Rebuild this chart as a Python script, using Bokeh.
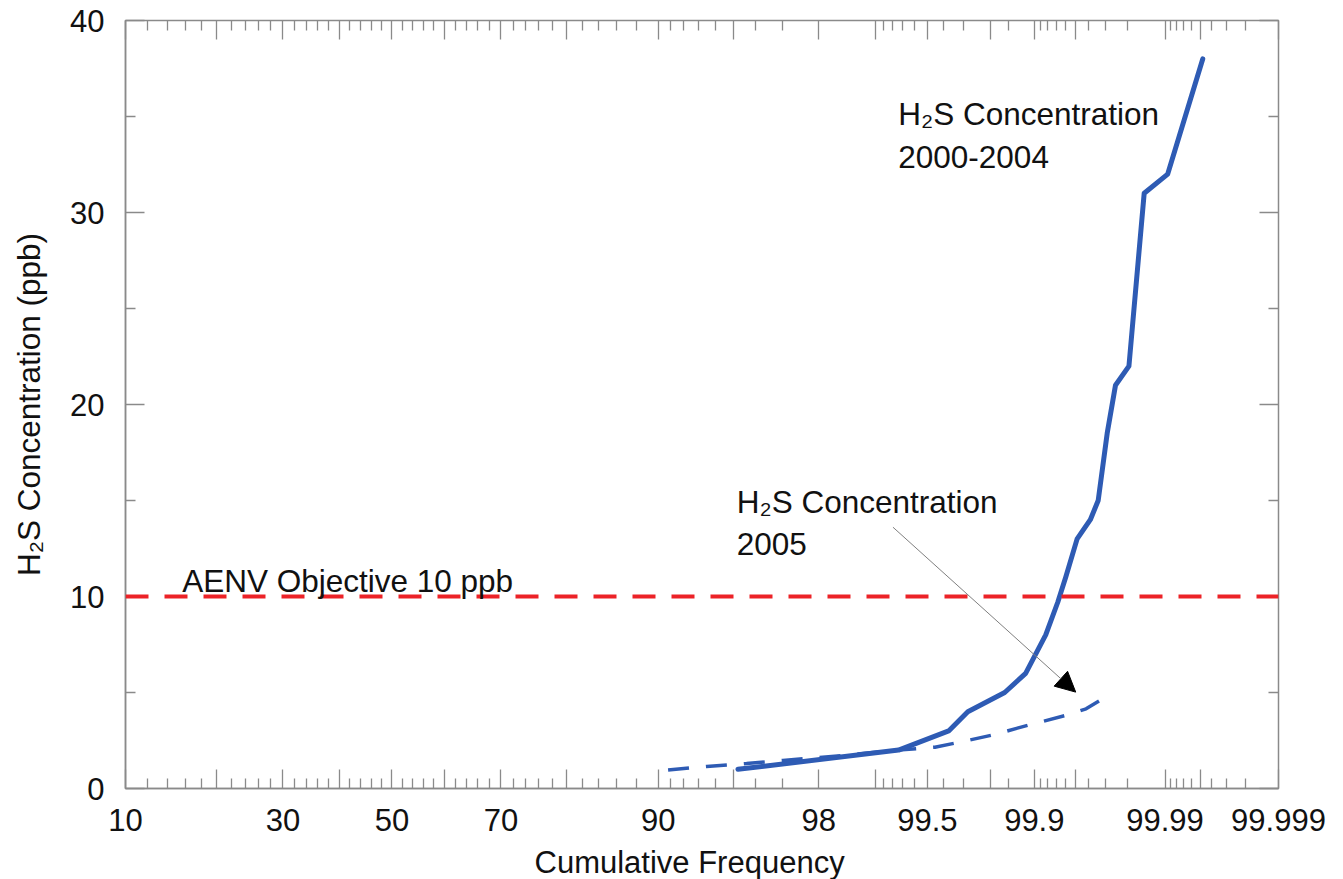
from statistics import NormalDist
from bokeh.plotting import figure
from bokeh.models import (Range1d, FixedTicker, CustomJSTickFormatter, LinearAxis,
                          Label, Arrow, NormalHead, Span, Title)
from bokeh.embed import file_html
from bokeh.resources import INLINE

# ---------------- data ----------------
# cumulative frequency (%) and H2S concentration (ppb)
freq_2000_2004 = [95.2, 99.26, 99.63, 99.72, 99.84, 99.885, 99.917, 99.932, 99.9405,
                  99.951, 99.961, 99.966, 99.971, 99.975, 99.9804, 99.9852, 99.9905, 99.9952]
conc_2000_2004 = [1.0, 2.0, 3.0, 4.0, 5.0, 6.0, 8.0, 9.7, 11.0,
                  13.0, 14.0, 15.0, 18.5, 21.0, 22.0, 31.0, 32.0, 38.0]

freq_2005 = [90.8, 93.5, 95.6, 97.0, 98.5, 99.26, 99.55, 99.7, 99.81, 99.89, 99.94, 99.958, 99.969]
conc_2005 = [0.96, 1.15, 1.3, 1.46, 1.72, 2.0, 2.15, 2.45, 2.8, 3.3, 3.8, 4.15, 4.7]

objective_ppb = 10

x_major = [10, 20, 30, 40, 50, 60, 70, 80, 90, 95, 98, 99, 99.5, 99.8, 99.9,
           99.95, 99.99, 99.995, 99.999]
x_labelled = [10, 30, 50, 70, 90, 98, 99.5, 99.9, 99.99, 99.999]
x_label_text = ["10", "30", "50", "70", "90", "98", "99.5", "99.9", "99.99", "99.999"]
x_minor = ([v for v in range(12, 90, 2) if v % 10 != 0] +
           [91, 92, 93, 94, 96, 97, 99.1, 99.2, 99.3, 99.4, 99.6, 99.7, 99.85,
            99.91, 99.92, 99.93, 99.94, 99.96, 99.97, 99.98,
            99.991, 99.992, 99.993, 99.994, 99.996, 99.997, 99.998])
y_major = [0, 10, 20, 30, 40]
y_minor = [5, 15, 25, 35]

# ---------------- probability (normal quantile) scale ----------------
nd = NormalDist()


def probit(p):
    return nd.inv_cdf(p / 100.0)


FONT = "Liberation Sans"
BLUE = "#2e5bb4"
RED = "#ec2227"
AXIS = "#8a8a8a"
TXT = "#111111"
ANN_SIZE = "31.5px"

p = figure(width=1343, height=879, output_backend="svg", toolbar_location=None,
           x_range=Range1d(probit(10), probit(99.999)), y_range=Range1d(0, 40),
           min_border_left=125, min_border_right=65, min_border_top=20, min_border_bottom=91,
           y_axis_label="H\u2082S Concentration (ppb)")
p.grid.visible = False
p.outline_line_color = AXIS
p.outline_line_width = 1.5
p.background_fill_color = "white"
p.border_fill_color = "white"

x_ticker = FixedTicker(ticks=[probit(v) for v in x_major], minor_ticks=[probit(v) for v in x_minor])
y_ticker = FixedTicker(ticks=y_major, minor_ticks=y_minor)

x_fmt = CustomJSTickFormatter(args=dict(pos=[probit(v) for v in x_labelled], txt=x_label_text), code="""
for (let i = 0; i < pos.length; i++) { if (Math.abs(tick - pos[i]) < 1e-6) return txt[i]; }
return "";
""")
blank_fmt = CustomJSTickFormatter(code="return '';")


def style_axis(ax, labelled):
    ax.axis_line_color = AXIS
    ax.axis_line_width = 1.5
    ax.major_tick_line_color = AXIS
    ax.minor_tick_line_color = AXIS
    ax.major_tick_line_width = 1.3
    ax.minor_tick_line_width = 1.3
    ax.major_tick_out = 0
    ax.minor_tick_out = 0
    ax.major_tick_in = 19
    ax.minor_tick_in = 10
    if labelled:
        ax.major_label_text_font = FONT
        ax.major_label_text_font_size = "31px"
        ax.major_label_text_color = TXT
        ax.axis_label_text_font = FONT
        ax.axis_label_text_font_size = ANN_SIZE
        ax.axis_label_text_font_style = "normal"
        ax.axis_label_text_color = TXT
    else:
        ax.major_label_text_font_size = "0px"
        ax.major_label_standoff = 0
        ax.axis_line_color = None


xa = p.xaxis[0]
xa.ticker = x_ticker
xa.formatter = x_fmt
style_axis(xa, True)
xa.major_label_standoff = 20
# tiny spacer label pushes the title a few pixels lower, as in the original
xa.axis_label = " "
xa.axis_label_text_font_size = "1px"
xa.axis_label_standoff = 5

ya = p.yaxis[0]
ya.ticker = y_ticker
style_axis(ya, True)
ya.major_label_standoff = 21
ya.axis_label_standoff = 20

top = LinearAxis(ticker=x_ticker, formatter=blank_fmt)
style_axis(top, False)
p.add_layout(top, "above")
right = LinearAxis(ticker=y_ticker, formatter=blank_fmt)
style_axis(right, False)
p.add_layout(right, "right")

# x-axis title, starting slightly left of centre as in the original
p.add_layout(Title(text="Cumulative Frequency", align="left", offset=409, standoff=0,
                   text_font=FONT, text_font_size="31px", text_font_style="normal",
                   text_color=TXT), "below")

# objective line
p.add_layout(Span(location=objective_ppb, dimension="width", line_color=RED,
                  line_width=4, line_dash="23 16"))

# data lines
p.line([probit(v) for v in freq_2005], conc_2005, line_color=BLUE, line_width=3.5,
       line_dash="21 17")
p.line([probit(v) for v in freq_2000_2004], conc_2000_2004, line_color=BLUE, line_width=5,
       line_join="round", line_cap="round")


# annotations
def add_label(pct, y, txt, align="left"):
    p.add_layout(Label(x=probit(pct), y=y, text=txt, text_font=FONT, text_font_size=ANN_SIZE,
                       text_color=TXT, text_baseline="alphabetic", text_align=align))


add_label(99.257, 35.14, "H\u2082S Concentration")
add_label(99.257, 32.88, "2000-2004")
add_label(95.14, 14.91, "H\u2082S Concentration")
add_label(95.14, 12.74, "2005")
add_label(15.65, 10.83, "AENV Objective 10 ppb")

p.add_layout(Arrow(end=NormalHead(size=20, fill_color="black", line_color="black"),
                   x_start=probit(99.203), y_start=13.61,
                   x_end=probit(99.9498), y_end=5.02,
                   line_color="#7f7f7f", line_width=1))

open("out.html", "w").write(file_html(p, INLINE))
